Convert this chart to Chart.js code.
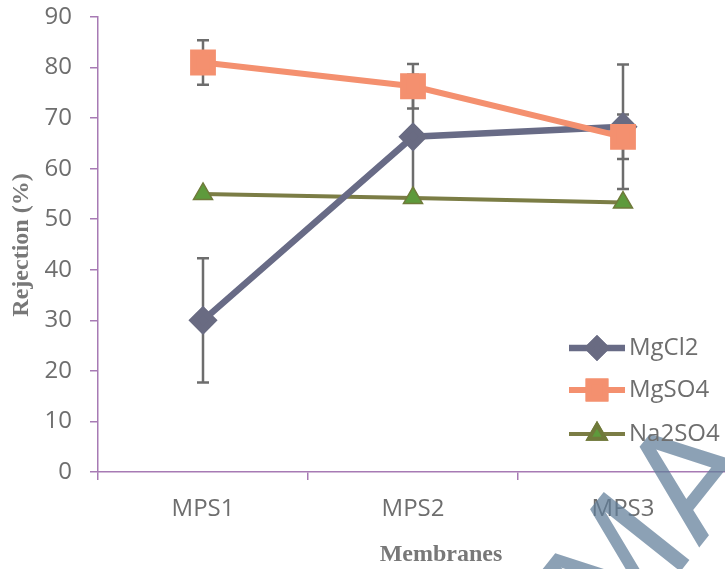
<!DOCTYPE html>
<html>
<head>
<meta charset="utf-8">
<script src="https://cdn.jsdelivr.net/npm/chart.js@4.4.1/dist/chart.umd.min.js"></script>
<style>
  html, body { margin: 0; padding: 0; background: #fff; overflow: hidden; }
  #wrap { width: 740px; height: 569px; }
</style>
</head>
<body>
<div id="wrap"><canvas id="rejectionChart"></canvas></div>
<script>
// Valores
const categories = ['MPS1', 'MPS2', 'MPS3'];
const mgcl2 = [30, 66.3, 68.3];
const mgcl2Err = [12.3, 12.3, 12.3];
const mgso4 = [81, 76.3, 66.3];
const mgso4Err = [4.4, 4.4, 4.4];
const na2so4 = [55, 54.2, 53.3];
const na2so4Err = [0, 0, 0];
const yTicks = [0, 10, 20, 30, 40, 50, 60, 70, 80, 90];

const tickFont = { family: '"Open Sans", sans-serif', size: 24 };
const tickColor = '#6e6e6e';
const axisColor = '#a77ab4';

// Barras de erro, desenhadas antes das linhas
const errorBars = {
  id: 'errorBars',
  beforeDatasetsDraw(chart) {
    const ctx = chart.ctx;
    const y = chart.scales.y;
    ctx.save();
    ctx.strokeStyle = '#6d6d6d';
    ctx.lineWidth = 2.5;
    chart.data.datasets.forEach((ds, i) => {
      const meta = chart.getDatasetMeta(i);
      meta.data.forEach((pt, j) => {
        const e = ds.errors[j];
        if (!e) return;
        const top = y.getPixelForValue(ds.data[j] + e);
        const bot = y.getPixelForValue(ds.data[j] - e);
        ctx.beginPath();
        ctx.moveTo(pt.x, top); ctx.lineTo(pt.x, bot);
        ctx.moveTo(pt.x - 6, top); ctx.lineTo(pt.x + 6, top);
        ctx.moveTo(pt.x - 6, bot); ctx.lineTo(pt.x + 6, bot);
        ctx.stroke();
      });
    });
    ctx.restore();
  }
};

// Marca d'água por baixo do texto
const watermark = {
  id: 'watermark',
  afterDatasetsDraw(chart) {
    const ctx = chart.ctx;
    ctx.save();
    ctx.translate(618, 650);
    ctx.rotate(-0.9);
    ctx.fillStyle = 'rgba(95, 125, 152, 0.72)';
    ctx.font = '150px "DejaVu Sans", sans-serif';
    ctx.textBaseline = 'alphabetic';
    ctx.fillText('MA', 0, 0);
    ctx.restore();
  }
};

// Legenda e títulos dos eixos
const extras = {
  id: 'extras',
  afterDraw(chart) {
    const ctx = chart.ctx;
    ctx.save();
    // legenda dentro da área do gráfico
    const rows = [348, 390, 434];
    chart.data.datasets.forEach((ds, i) => {
      const yy = rows[i];
      ctx.strokeStyle = ds.borderColor;
      ctx.lineWidth = ds.borderWidth;
      ctx.beginPath();
      ctx.moveTo(569, yy); ctx.lineTo(625, yy);
      ctx.stroke();
      Chart.helpers.drawPoint(ctx, {
        pointStyle: ds.pointStyle,
        radius: ds.pointRadius * 0.85,
        borderWidth: 1
      }, 597, yy);
      ctx.fillStyle = ds.pointBackgroundColor;
      ctx.strokeStyle = ds.pointBorderColor;
      ctx.fill();
      ctx.stroke();
      ctx.fillStyle = tickColor;
      ctx.font = '24px "Open Sans", sans-serif';
      ctx.textBaseline = 'middle';
      ctx.textAlign = 'left';
      ctx.fillText(ds.label, 629, yy);
    });
    // títulos
    ctx.fillStyle = '#787878';
    ctx.font = 'bold 24px "Liberation Serif", "DejaVu Serif", serif';
    ctx.textAlign = 'center';
    ctx.textBaseline = 'middle';
    ctx.fillText('Membranes', 441, 555);
    ctx.translate(22, 245);
    ctx.rotate(-Math.PI / 2);
    ctx.fillText('Rejection (%)', 0, 0);
    ctx.restore();
  }
};

new Chart(document.getElementById('rejectionChart'), {
  type: 'line',
  data: {
    labels: categories,
    datasets: [
      {
        label: 'MgCl2',
        data: mgcl2,
        errors: mgcl2Err,
        borderColor: '#686b86',
        borderWidth: 6.5,
        pointStyle: 'rectRot',
        pointRadius: 10,
        pointBackgroundColor: '#696b82',
        pointBorderColor: '#696b82',
        order: 1
      },
      {
        label: 'MgSO4',
        data: mgso4,
        errors: mgso4Err,
        borderColor: '#f4906f',
        borderWidth: 6,
        pointStyle: 'rect',
        pointRadius: 14,
        pointBackgroundColor: '#f4906f',
        pointBorderColor: '#f4906f',
        order: 0
      },
      {
        label: 'Na2SO4',
        data: na2so4,
        errors: na2so4Err,
        borderColor: '#7b7d45',
        borderWidth: 4,
        pointStyle: 'triangle',
        pointRadius: 11,
        pointBackgroundColor: '#5e9a3c',
        pointBorderColor: '#6f7a3a',
        pointBorderWidth: 1.5,
        order: 2
      }
    ]
  },
  options: {
    responsive: true,
    maintainAspectRatio: false,
    animation: false,
    layout: { autoPadding: false, padding: { top: 17, right: 12, left: 0, bottom: 0 } },
    plugins: { legend: { display: false }, tooltip: { enabled: false } },
    scales: {
      x: {
        offset: true,
        grid: { display: true, offset: true, drawOnChartArea: false, tickLength: 8, color: axisColor, lineWidth: 1.5 },
        border: { color: axisColor, width: 1.5 },
        ticks: { font: tickFont, color: tickColor, padding: 15, maxRotation: 0 },
        afterFit(s) { s.height = 97; }
      },
      y: {
        min: 0,
        max: 90,
        afterBuildTicks(s) { s.ticks = yTicks.map(v => ({ value: v })); },
        grid: { display: true, drawOnChartArea: false, tickLength: 8, color: axisColor, lineWidth: 1.5 },
        border: { color: axisColor, width: 1.5 },
        ticks: { font: tickFont, color: tickColor, padding: 18 },
        afterFit(s) { s.width = 98; s.paddingTop = 0; s.paddingBottom = 0; }
      }
    }
  },
  plugins: [errorBars, watermark, extras]
});
</script>
</body>
</html>
